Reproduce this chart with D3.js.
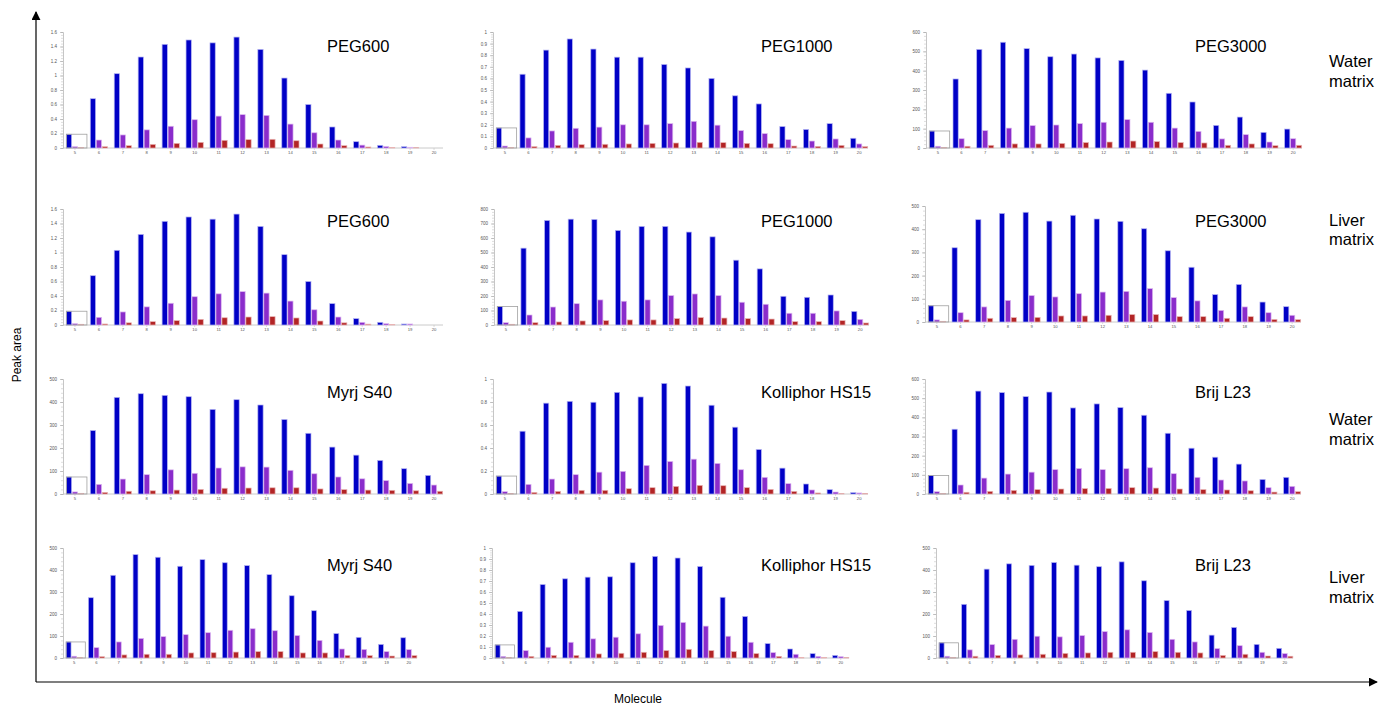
<!DOCTYPE html>
<html>
<head>
<meta charset="utf-8">
<script src="https://cdn.jsdelivr.net/npm/d3@7"></script>
<style>
  html, body { margin: 0; padding: 0; background: #fff; }
  svg { display: block; font-family: "Liberation Sans", Arial, sans-serif; }
</style>
</head>
<body>
<svg id="chart" width="1378" height="705"></svg>
<script>
// ---------------- DATA ----------------
const molecules = [5, 6, 7, 8, 9, 10, 11, 12, 13, 14, 15, 16, 17, 18, 19, 20];
const seriesNames = ["Series A", "Series B", "Series C"];

const panelTitles = ["PEG600", "PEG1000", "PEG3000", "PEG600", "PEG1000", "PEG3000",
                     "Myrj S40", "Kolliphor HS15", "Brij L23", "Myrj S40", "Kolliphor HS15", "Brij L23"];
const rowLabels = [["Water", "matrix"], ["Liver", "matrix"], ["Water", "matrix"], ["Liver", "matrix"]];
const xAxisTitle = "Molecule";
const yAxisTitle = "Peak area";

// y tick values per panel
const ticks0to16 = [0, 0.2, 0.4, 0.6, 0.8, 1, 1.2, 1.4, 1.6];
const ticks0to1by01 = [0, 0.1, 0.2, 0.3, 0.4, 0.5, 0.6, 0.7, 0.8, 0.9, 1];
const ticks0to1by02 = [0, 0.2, 0.4, 0.6, 0.8, 1];
const ticks0to500 = [0, 100, 200, 300, 400, 500];
const ticks0to600 = [0, 100, 200, 300, 400, 500, 600];
const ticks0to800 = [0, 100, 200, 300, 400, 500, 600, 700, 800];

// PEG600 – water
const peg600WaterA = [0.19, 0.68, 1.025, 1.255, 1.43, 1.49, 1.45, 1.53, 1.36, 0.965, 0.60, 0.29, 0.087, 0.037, 0.018, 0];
const peg600WaterB = [0.018, 0.11, 0.18, 0.25, 0.30, 0.39, 0.44, 0.46, 0.45, 0.33, 0.21, 0.11, 0.04, 0.02, 0.01, 0];
const peg600WaterC = [0.005, 0.018, 0.032, 0.05, 0.064, 0.078, 0.106, 0.115, 0.12, 0.10, 0.055, 0.032, 0.014, 0.009, 0.004, 0];
// PEG1000 – water
const peg1000WaterA = [0.173, 0.636, 0.844, 0.94, 0.853, 0.783, 0.783, 0.72, 0.69, 0.60, 0.45, 0.38, 0.185, 0.16, 0.21, 0.084];
const peg1000WaterB = [0.017, 0.087, 0.147, 0.17, 0.18, 0.20, 0.20, 0.21, 0.23, 0.197, 0.15, 0.124, 0.072, 0.06, 0.078, 0.035];
const peg1000WaterC = [0.005, 0.012, 0.023, 0.029, 0.032, 0.035, 0.04, 0.043, 0.049, 0.046, 0.04, 0.037, 0.017, 0.014, 0.023, 0.012];
// PEG3000 – water
const peg3000WaterA = [88, 357, 510, 547, 514, 472, 486, 466, 453, 403, 283, 238, 117, 160, 81, 98];
const peg3000WaterB = [9, 48, 90, 103, 116, 119, 126, 133, 147, 133, 103, 86, 47, 69, 31, 48];
const peg3000WaterC = [2, 9, 14, 21, 21, 24, 28, 31, 36, 33, 28, 26, 14, 21, 12, 14];
// PEG600 – liver
const peg600LiverA = [0.19, 0.68, 1.03, 1.25, 1.43, 1.49, 1.46, 1.53, 1.36, 0.97, 0.60, 0.295, 0.088, 0.037, 0.014, 0];
const peg600LiverB = [0.018, 0.106, 0.18, 0.25, 0.30, 0.39, 0.43, 0.46, 0.44, 0.33, 0.21, 0.11, 0.037, 0.018, 0.014, 0];
const peg600LiverC = [0.01, 0.014, 0.03, 0.046, 0.06, 0.078, 0.10, 0.11, 0.115, 0.097, 0.055, 0.03, 0.012, 0.005, 0, 0];
// PEG1000 – liver
const peg1000LiverA = [127, 530, 721, 730, 728, 652, 680, 680, 641, 608, 447, 387, 198, 191, 207, 94];
const peg1000LiverB = [16, 69, 124, 147, 173, 164, 173, 203, 214, 203, 157, 143, 81, 81, 97, 39];
const peg1000LiverC = [5, 16, 21, 28, 30, 35, 35, 44, 51, 48, 44, 41, 23, 23, 30, 14];
// PEG3000 – liver
const peg3000LiverA = [70, 320, 441, 468, 473, 435, 460, 444, 434, 402, 307, 236, 118, 162, 86, 66];
const peg3000LiverB = [9, 40, 65, 93, 114, 108, 122, 129, 132, 144, 105, 91, 50, 65, 40, 29];
const peg3000LiverC = [3, 9, 16, 19, 20, 26, 26, 29, 32, 32, 23, 23, 16, 23, 11, 10];
// Myrj S40 – water
const myrjWaterA = [74, 276, 420, 436, 429, 423, 368, 410, 387, 324, 264, 204, 169, 146, 110, 81];
const myrjWaterB = [9, 42, 65, 84, 105, 90, 113, 118, 117, 103, 88, 74, 66, 58, 46, 39];
const myrjWaterC = [3, 7, 12, 14, 17, 20, 25, 26, 27, 27, 22, 19, 17, 16, 14, 12];
// Kolliphor HS15 – water
const kolliWaterA = [0.156, 0.546, 0.79, 0.806, 0.798, 0.884, 0.844, 0.962, 0.939, 0.772, 0.581, 0.387, 0.225, 0.087, 0.038, 0.012];
const kolliWaterB = [0.02, 0.084, 0.13, 0.168, 0.19, 0.197, 0.249, 0.283, 0.303, 0.266, 0.211, 0.145, 0.09, 0.035, 0.017, 0.009];
const kolliWaterC = [0.003, 0.014, 0.023, 0.032, 0.032, 0.046, 0.055, 0.066, 0.075, 0.072, 0.055, 0.04, 0.023, 0.009, 0.003, 0.003];
// Brij L23 – water
const brijWaterA = [97, 338, 537, 529, 508, 532, 449, 470, 451, 411, 317, 239, 192, 156, 76, 87];
const brijWaterB = [12, 47, 83, 104, 114, 127, 133, 127, 132, 137, 106, 87, 73, 68, 33, 40];
const brijWaterC = [3, 9, 14, 19, 23, 26, 28, 29, 33, 31, 26, 23, 21, 17, 10, 12];
// Myrj S40 – liver
const myrjLiverA = [73, 274, 376, 470, 458, 417, 447, 433, 420, 379, 283, 215, 111, 94, 62, 92];
const myrjLiverB = [8, 47, 73, 89, 97, 106, 115, 126, 133, 124, 102, 80, 41, 39, 29, 38];
const myrjLiverC = [3, 6, 14, 17, 17, 23, 24, 27, 29, 29, 23, 23, 12, 11, 9, 11];
// Kolliphor HS15 – liver
const kolliLiverA = [0.119, 0.424, 0.668, 0.72, 0.735, 0.738, 0.866, 0.924, 0.909, 0.832, 0.552, 0.378, 0.131, 0.082, 0.04, 0.024];
const kolliLiverB = [0.015, 0.067, 0.098, 0.143, 0.174, 0.189, 0.22, 0.296, 0.323, 0.29, 0.198, 0.143, 0.049, 0.034, 0.015, 0.012];
const kolliLiverC = [0.003, 0.015, 0.024, 0.024, 0.037, 0.043, 0.052, 0.067, 0.079, 0.067, 0.058, 0.04, 0.015, 0.006, 0.006, 0.003];
// Brij L23 – liver
const brijLiverA = [69, 244, 404, 428, 421, 434, 422, 415, 437, 351, 261, 216, 104, 139, 62, 44];
const brijLiverB = [8, 37, 61, 85, 99, 96, 102, 120, 128, 116, 85, 73, 43, 56, 26, 20];
const brijLiverC = [3, 8, 12, 14, 17, 21, 23, 26, 26, 29, 26, 23, 12, 17, 9, 8];

// ---------------- LAYOUT / STYLE ----------------
const panelData = [
  [peg600WaterA, peg600WaterB, peg600WaterC, ticks0to16],
  [peg1000WaterA, peg1000WaterB, peg1000WaterC, ticks0to1by01],
  [peg3000WaterA, peg3000WaterB, peg3000WaterC, ticks0to600],
  [peg600LiverA, peg600LiverB, peg600LiverC, ticks0to16],
  [peg1000LiverA, peg1000LiverB, peg1000LiverC, ticks0to800],
  [peg3000LiverA, peg3000LiverB, peg3000LiverC, ticks0to500],
  [myrjWaterA, myrjWaterB, myrjWaterC, ticks0to500],
  [kolliWaterA, kolliWaterB, kolliWaterC, ticks0to1by02],
  [brijWaterA, brijWaterB, brijWaterC, ticks0to600],
  [myrjLiverA, myrjLiverB, myrjLiverC, ticks0to500],
  [kolliLiverA, kolliLiverB, kolliLiverC, ticks0to1by01],
  [brijLiverA, brijLiverB, brijLiverC, ticks0to500]
];
const panelBoxes = [
  {x0: 63, x1: 446, top: 32, base: 148},
  {x0: 493, x1: 871, top: 32, base: 148},
  {x0: 926, x1: 1305, top: 32, base: 148},
  {x0: 63, x1: 446, top: 209, base: 325},
  {x0: 494, x1: 872, top: 209, base: 325},
  {x0: 925, x1: 1304, top: 206, base: 322},
  {x0: 63, x1: 446, top: 379, base: 494},
  {x0: 493, x1: 871, top: 379, base: 494},
  {x0: 925, x1: 1304, top: 379, base: 494},
  {x0: 63, x1: 420, top: 548, base: 658},
  {x0: 492, x1: 852, top: 548, base: 658},
  {x0: 936, x1: 1296, top: 548, base: 658}
];
const titlePos = [
  [327, 52], [761, 52], [1195, 52],
  [327, 227], [761, 227], [1195, 227],
  [327, 398], [761, 398], [1195, 398],
  [327, 571], [761, 571], [1195, 571]
];
const rowLabelY = [[67, 87], [226, 245], [425, 445], [583, 603]];
const fills = ["#0000c6", "#8a2ccb", "#b22425"];
const strokes = ["#b4b4f2", "#dcb8f0", "#e8b4b4"];

const svg = d3.select("#chart");

// -------------- main axes with arrows --------------
const defs = svg.append("defs");
defs.append("marker").attr("id", "arrow").attr("viewBox", "0 0 10 10")
  .attr("refX", 9).attr("refY", 5).attr("markerWidth", 9).attr("markerHeight", 9)
  .attr("markerUnits", "userSpaceOnUse").attr("orient", "auto")
  .append("path").attr("d", "M0,0 L10,5 L0,10 z").attr("fill", "#000");

svg.append("line").attr("x1", 36).attr("y1", 682).attr("x2", 36).attr("y2", 12)
  .attr("stroke", "#000").attr("stroke-width", 1.2).attr("marker-end", "url(#arrow)");
svg.append("line").attr("x1", 36).attr("y1", 682).attr("x2", 1377).attr("y2", 682)
  .attr("stroke", "#000").attr("stroke-width", 1.2).attr("marker-end", "url(#arrow)");

svg.append("text").attr("transform", "translate(21,355) rotate(-90)")
  .attr("text-anchor", "middle").attr("font-size", 12).attr("fill", "#000").text(yAxisTitle);
svg.append("text").attr("x", 638).attr("y", 703)
  .attr("text-anchor", "middle").attr("font-size", 12).attr("fill", "#000").text(xAxisTitle);

// -------------- panels --------------
const fmt = v => String(+v.toFixed(3));

panelData.forEach((pd, i) => {
  const box = panelBoxes[i];
  const series = pd.slice(0, 3);
  const ticks = pd[3];
  const g = svg.append("g");

  const x0 = d3.scaleBand().domain(molecules).range([box.x0, box.x1])
    .paddingInner(0.28).paddingOuter(0.14);
  const x1 = d3.scaleBand().domain(seriesNames).range([0, x0.bandwidth()]).paddingInner(0.12);
  const y = d3.scaleLinear().domain([0, ticks[ticks.length - 1]]).range([box.base, box.top]);

  // minor ticks
  const step = ticks[1] - ticks[0];
  const minor = d3.range(0, ticks[ticks.length - 1] + step / 10, step / 5);
  const yAxis = d3.axisLeft(y).tickValues(minor).tickSize(2).tickFormat("");
  const ya = g.append("g").attr("transform", `translate(${box.x0},0)`).call(yAxis);
  ya.select(".domain").attr("stroke", "#b8b8b8").attr("stroke-width", 0.8);
  ya.selectAll(".tick line").attr("stroke", "#c8c8c8").attr("stroke-width", 0.6);

  const yMajor = d3.axisLeft(y).tickValues(ticks).tickSize(3).tickPadding(3).tickFormat(fmt);
  const ym = g.append("g").attr("transform", `translate(${box.x0},0)`).call(yMajor);
  ym.select(".domain").remove();
  ym.selectAll(".tick line").attr("stroke", "#b0b0b0").attr("stroke-width", 0.7);
  ym.selectAll(".tick text").attr("font-size", 4.5).attr("fill", "#555")
    .attr("font-family", "Liberation Sans, Arial, sans-serif");

  // x axis
  const xAxis = d3.axisBottom(x0).tickSize(2).tickPadding(1);
  const xa = g.append("g").attr("transform", `translate(0,${box.base})`).call(xAxis);
  xa.select(".domain").attr("stroke", "#c4c4c4").attr("stroke-width", 0.9)
    .attr("d", `M${box.x0},0H${box.x1 - 3}`);
  xa.selectAll(".tick line").attr("stroke", "#c4c4c4").attr("stroke-width", 0.6);
  xa.selectAll(".tick text").attr("font-size", 4.2).attr("fill", "#555")
    .attr("font-family", "Liberation Sans, Arial, sans-serif");

  // bars
  series.forEach((vals, s) => {
    g.append("g").selectAll("rect").data(vals).join("rect")
      .attr("x", (d, k) => x0(molecules[k]) + x1(seriesNames[s]))
      .attr("y", d => y(d))
      .attr("width", x1.bandwidth())
      .attr("height", d => box.base - y(d))
      .attr("fill", fills[s])
      .attr("stroke", d => d > 0 ? strokes[s] : "none")
      .attr("stroke-width", 0.7);
  });

  // outlined box at first category
  const firstVal = series[0][0];
  g.append("rect")
    .attr("x", x0(molecules[0]) + x1(seriesNames[0]))
    .attr("y", y(firstVal))
    .attr("width", x0.step() * 0.86)
    .attr("height", box.base - y(firstVal))
    .attr("fill", "none").attr("stroke", "#a0a0a0").attr("stroke-width", 0.8);

  // title
  svg.append("text").attr("x", titlePos[i][0]).attr("y", titlePos[i][1])
    .attr("font-size", 16.5).attr("fill", "#000").text(panelTitles[i]);
});

// row labels
rowLabels.forEach((lines, r) => {
  lines.forEach((t, k) => {
    svg.append("text").attr("x", 1329).attr("y", rowLabelY[r][k])
      .attr("font-size", 16.5).attr("fill", "#000").text(t);
  });
});
</script>
</body>
</html>
